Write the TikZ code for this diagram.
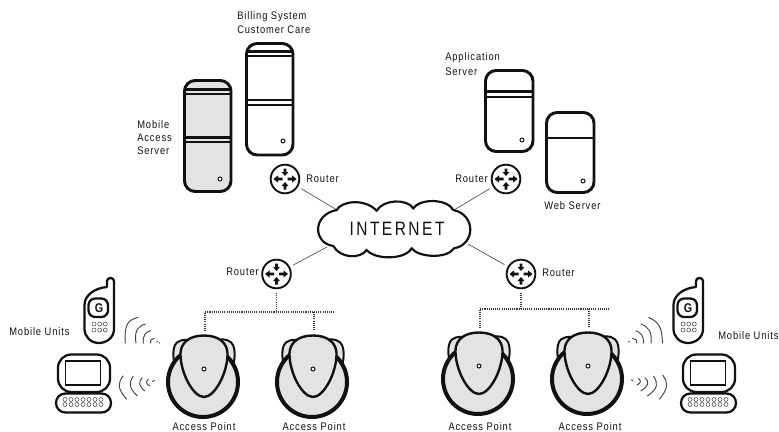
\documentclass[tikz,border=0pt]{standalone}
\usepackage{fontspec}
\setmainfont{Liberation Sans}[FakeStretch=0.85,LetterSpace=8]
\newfontfamily\netfont{Liberation Sans}[FakeStretch=0.8,LetterSpace=13]
\definecolor{shade}{HTML}{E3E3E3}
\definecolor{ink}{HTML}{111111}
\newcommand{\routerpic}[1]{%
  \begin{scope}[shift={(#1)}]
    \fill[ink] (-11.5,0) -- (-7,-3.6) -- (-7,-1.4) -- (-2.5,-1.4) -- (-2.5,1.4) -- (-7,1.4) -- (-7,3.6) -- cycle;
    \fill[ink] (11.5,0) -- (7,-3.6) -- (7,-1.4) -- (2.5,-1.4) -- (2.5,1.4) -- (7,1.4) -- (7,3.6) -- cycle;
    \fill[ink] (0,-3) -- (-3.4,-7) -- (-1.4,-7) -- (-1.4,-10.5) -- (1.4,-10.5) -- (1.4,-7) -- (3.4,-7) -- cycle;
    \fill[ink] (0,3) -- (-3.4,7) -- (-1.4,7) -- (-1.4,10.5) -- (1.4,10.5) -- (1.4,7) -- (3.4,7) -- cycle;
  \end{scope}}
\newcommand{\serverbox}[5]{%
  \draw[unit,fill=#5] (#1,#2) rectangle (#3,#4);}
\newcommand{\accesspoint}[1]{%
  \begin{scope}[shift={(#1)}]
    \draw[apline,fill=shade] (-30,-7) .. controls (-31,-14) and (-31,-20) .. (-29,-24)
       .. controls (-27,-28) and (-22,-30) .. (-12,-29) -- (12,-29)
       .. controls (22,-31) and (27,-28) .. (29,-24)
       .. controls (31,-20) and (31,-14) .. (30,-7) -- cycle;
    \draw[line width=3pt,draw=ink,fill=shade] (-1,13) circle[radius=35];
    \draw[apline,line width=1.8pt,fill=shade] (0,-33.5) .. controls (-15,-33.5) and (-23,-26) .. (-23.5,-16)
       .. controls (-24,3) and (-11,28) .. (0,28) .. controls (11,28) and (24,3) .. (23.5,-16)
       .. controls (23,-26) and (15,-33.5) .. (0,-33.5) -- cycle;
    \draw[ink,line width=.7pt,fill=white] (0,0) circle[radius=2];
  \end{scope}}
\newcommand{\phonepic}[1]{%
  \begin{scope}[shift={(#1,0)}]
    \draw[ink,line width=1.7pt,fill=white,line join=round] (107,287) -- (107,281) .. controls (107,277) and (114,277) .. (114,281) -- (114,329)
      .. controls (114,338) and (106,343) .. (99,343) .. controls (91,343) and (84.5,337) .. (84.5,329) -- (84.5,305)
      .. controls (84.5,295) and (95,288) .. (107,287) -- cycle;
    \draw[ink,line width=1.7pt,rounded corners=5] (88.5,298.5) rectangle (108,317);
    \node[font=\fontsize{9.5}{10}\selectfont\bfseries,text=ink,inner sep=0pt] (g#1) at (99,308) {G};
    \foreach \kx in {94,99.7,105.3} \foreach \ky in {324,330}
      \draw[ink!80,line width=.4pt] (\kx,\ky) circle[radius=2];
  \end{scope}}
\newcommand{\laptoppic}[1]{%
  \begin{scope}[shift={(#1,0)}]
    \draw[ink,line width=1.7pt,fill=white,rounded corners=10] (58,354.5) rectangle (110,392);
    \draw[ink,line width=1.2pt] (65.5,361) rectangle (100.5,385);
    \draw[ink,line width=1.7pt,fill=white,rounded corners=7] (56,393.5) rectangle (111,412.5);
    \foreach \kx in {65,71,77,83,89,95,101} \foreach \ky in {399.5,404.5}
      \draw[ink!80,line width=.4pt] (\kx,\ky) circle[radius=2];
  \end{scope}}
\tikzset{
  x=.75pt,y=-.75pt,
  unit/.style={draw=ink,line width=2.2pt,rounded corners=8},
  band/.style={draw=ink,line width=1.6pt},
  apline/.style={draw=ink,line width=1.5pt},
  routernode/.style={circle,draw=ink,line width=1.4pt,fill=white,minimum size=21.5pt,inner sep=0pt,outer sep=3.5pt},
  link/.style={draw=ink!75,line width=.5pt},
  bus/.style={draw=ink!85,line width=.8pt,dash pattern=on .8pt off .8pt},
  wave/.style={draw=ink!80,line width=.7pt},
  serverdot/.style={draw=ink,line width=.7pt,fill=white},
  lbl/.style={font=\fontsize{8.25}{10}\selectfont,text=ink,inner sep=0pt},
  lblleft/.style={lbl,anchor=west},
}
\begin{document}
\begin{tikzpicture}
\useasboundingbox (0,0) rectangle (779,432);
% servers
\serverbox{184.5}{80.5}{231}{191.5}{shade}
\draw[band] (184.5,89.5) -- (231,89.5) (184.5,94) -- (231,94) (184.5,137.5) -- (231,137.5) (184.5,142) -- (231,142);
\draw[serverdot] (220,179) circle[radius=2];
\serverbox{246.5}{43.5}{293}{155}{white}
\draw[band] (246.5,51.5) -- (293,51.5) (246.5,56) -- (293,56) (246.5,100) -- (293,100) (246.5,105) -- (293,105);
\draw[serverdot] (283,141) circle[radius=2];
\serverbox{485.5}{70.5}{533}{151.5}{white}
\draw[band] (485.5,91.5) -- (533,91.5) (485.5,97) -- (533,97);
\draw[serverdot] (522,140) circle[radius=2];
\serverbox{546.5}{112.5}{594}{192.5}{white}
\draw[band] (546.5,138) -- (594,138);
\draw[serverdot] (583,181) circle[radius=2];
% connectors
\coordinate (cloudTL) at (337,210);
\coordinate (cloudTR) at (454,210);
\coordinate (cloudBL) at (327,247);
\coordinate (cloudBR) at (468,244);
\node[routernode] (rtrTL) at (285,179) {};
\node[routernode] (rtrTR) at (506,179) {};
\node[routernode] (rtrBL) at (276.5,274) {};
\node[routernode] (rtrBR) at (521,274) {};
\routerpic{285,179}\routerpic{506,179}\routerpic{276.5,274}\routerpic{521,274}
\draw[link] (rtrTL) -- (cloudTL);
\draw[link] (rtrTR) -- (cloudTR);
\draw[link] (rtrBL) -- (cloudBL);
\draw[link] (rtrBR) -- (cloudBR);
% cloud
\begin{scope}[shift={(250,160)},scale=.33333]
\draw[draw=ink,line width=1.6pt,fill=white] (260,150)
  .. controls (275,122) and (345,115) .. (380,152)
  .. controls (400,118) and (470,115) .. (490,145)
  .. controls (510,115) and (590,115) .. (610,150)
  .. controls (680,165) and (675,255) .. (612,265)
  .. controls (590,298) and (505,292) .. (485,265)
  .. controls (465,300) and (375,300) .. (350,270)
  .. controls (330,298) and (270,295) .. (250,258)
  .. controls (190,250) and (185,165) .. cycle;
\end{scope}
\node[inner sep=0pt,text=ink,font=\netfont\fontsize{14.5}{16}\selectfont] (net) at (397,229) {INTERNET};
% bus
\coordinate (busL) at (276.5,312);
\coordinate (busLa) at (205,312);
\coordinate (busLb) at (335,312);
\coordinate (busLc) at (314,312);
\coordinate (dropLa) at (205,331);
\coordinate (dropLc) at (314,331);
\coordinate (busR) at (521,309);
\coordinate (busRa) at (480,309);
\coordinate (busRb) at (610,309);
\coordinate (busRc) at (589,309);
\coordinate (dropRa) at (480,328);
\coordinate (dropRc) at (589,327);
\draw[bus] (rtrBL.south) -- (busL);
\draw[bus] (dropLa) -- (busLa) -- (busLb);
\draw[bus] (busLc) -- (dropLc);
\draw[bus] (rtrBR.south) -- (busR);
\draw[bus] (dropRa) -- (busRa) -- (busRb);
\draw[bus] (busRc) -- (dropRc);
% access points
\accesspoint{204,369}
\accesspoint{313,369}
\accesspoint{479,366}
\accesspoint{588,366}
% mobile units
\phonepic{0}
\phonepic{589}
\laptoppic{0}
\laptoppic{625}
% left waves
\begin{scope}[shift={(110,310)},scale=.33333]
\draw[wave] (46,100) .. controls (42,40) and (55,30) .. (85,22);
\draw[wave] (78,100) .. controls (72,60) and (85,48) .. (107,42);
\draw[wave] (100,100) .. controls (98,75) and (107,66) .. (122,62);
\draw[wave] (122,100) .. controls (120,90) and (125,86) .. (133,85);
\draw[wave] (140,97) -- (143,93) (148,100) -- (149,97);
\draw[wave] (50,268) .. controls (22,235) and (22,220) .. (40,197);
\draw[wave] (82,258) .. controls (58,235) and (55,220) .. (70,198);
\draw[wave] (105,243) .. controls (85,228) and (85,215) .. (97,203);
\draw[wave] (120,228) .. controls (107,222) and (107,214) .. (116,207);
\draw[wave] (127,215) -- (134,211);
\end{scope}
% right waves
\begin{scope}[shift={(620,310)},scale=.33333]
\draw[wave] (127,100) .. controls (127,50) and (115,35) .. (85,22);
\draw[wave] (93,100) .. controls (97,65) and (85,50) .. (62,42);
\draw[wave] (70,100) .. controls (72,78) and (63,68) .. (47,62);
\draw[wave] (50,100) .. controls (52,90) and (46,86) .. (37,85);
\draw[wave] (25,97) -- (29,93);
\draw[wave] (118,268) .. controls (145,235) and (145,220) .. (128,195);
\draw[wave] (82,258) .. controls (115,235) and (115,220) .. (100,198);
\draw[wave] (62,243) .. controls (88,228) and (88,215) .. (75,203);
\draw[wave] (50,225) .. controls (64,220) and (64,212) .. (55,205);
\draw[wave] (33,209) -- (40,213);
\end{scope}
% labels
\node[lblleft] (t1) at (237,17) {Billing System};
\node[lblleft] (t2) at (237,30) {Customer Care};
\node[lblleft] (t3) at (137,125) {Mobile};
\node[lblleft] (t4) at (137,138) {Access};
\node[lblleft] (t5) at (137,151) {Server};
\node[lblleft] (t6) at (306,179) {Router};
\node[lblleft] (t7) at (455,179) {Router};
\node[lblleft] (t8) at (226,272) {Router};
\node[lblleft] (t9) at (542,273) {Router};
\node[lblleft] (t10) at (445,58) {Application};
\node[lblleft] (t11) at (445,72) {Server};
\node[lblleft] (t12) at (544,206) {Web Server};
\node[lblleft] (t13) at (9,332) {Mobile Units};
\node[lblleft] (t14) at (718,336) {Mobile Units};
\node[lbl] (t15) at (204,426.5) {Access Point};
\node[lbl] (t16) at (314,426.5) {Access Point};
\node[lbl] (t17) at (480,426.5) {Access Point};
\node[lbl] (t18) at (590,426.5) {Access Point};
\end{tikzpicture}
\end{document}
